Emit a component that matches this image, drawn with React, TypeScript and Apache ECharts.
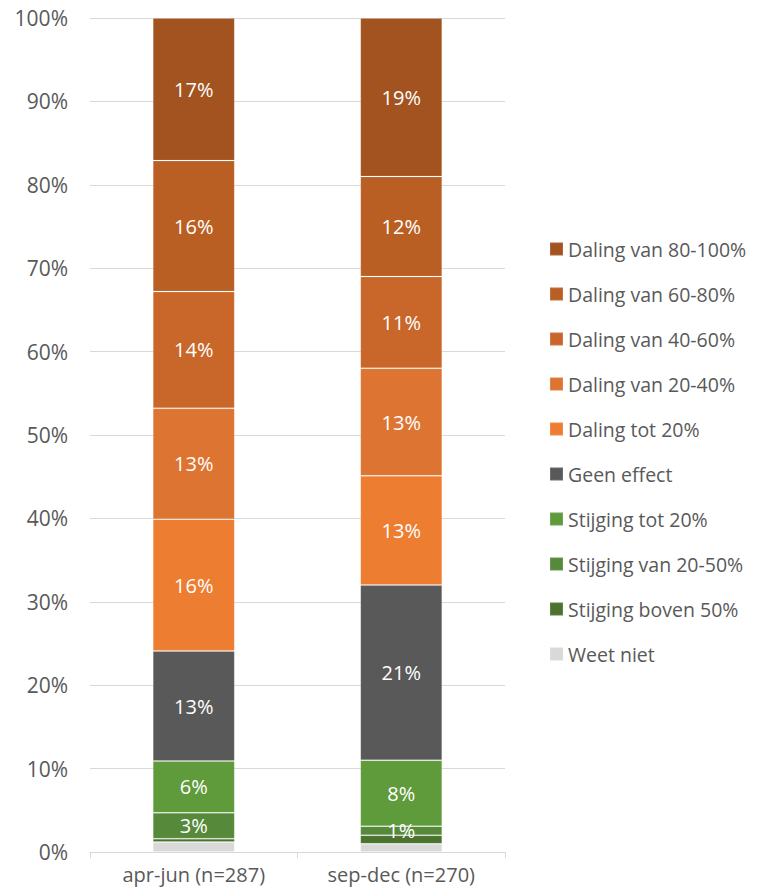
import React, { useEffect, useRef } from "react";
import * as echarts from "echarts";

const categories = ["apr-jun (n=287)", "sep-dec (n=270)"];
const seriesNames = [
  "Weet niet",
  "Stijging boven 50%",
  "Stijging van 20-50%",
  "Stijging tot 20%",
  "Geen effect",
  "Daling tot 20%",
  "Daling van 20-40%",
  "Daling van 40-60%",
  "Daling van 60-80%",
  "Daling van 80-100%",
];
const weetNiet = [1.2, 1.0];
const stijgingBoven50 = [0.4, 1.0];
const stijging20_50 = [3.1, 1.1];
const stijgingTot20 = [6.2, 7.9];
const geenEffect = [13.2, 21.0];
const dalingTot20 = [15.8, 13.1];
const daling20_40 = [13.3, 12.9];
const daling40_60 = [14.0, 11.0];
const daling60_80 = [15.7, 12.0];
const daling80_100 = [17.1, 19.0];
const seriesValues = [
  weetNiet,
  stijgingBoven50,
  stijging20_50,
  stijgingTot20,
  geenEffect,
  dalingTot20,
  daling20_40,
  daling40_60,
  daling60_80,
  daling80_100,
];
const colors = [
  "#D9D9D9",
  "#4B722F",
  "#56893A",
  "#5F9A3B",
  "#595959",
  "#ED7D31",
  "#DE7431",
  "#C9672A",
  "#BA5F24",
  "#A3531F",
];
const hiddenLabelSeries = ["Weet niet", "Stijging boven 50%"];
const yTicks = [0, 10, 20, 30, 40, 50, 60, 70, 80, 90, 100];

const FONT = "'Open Sans', 'Noto Sans', sans-serif";

export default function App() {
  const ref = useRef<HTMLDivElement>(null);
  useEffect(() => {
    if (!ref.current) return;
    const chart = echarts.init(ref.current, undefined, { renderer: "svg" });
    chart.setOption({
      animation: false,
      textStyle: { fontFamily: FONT },
      grid: { left: 90, right: 253, top: 18, bottom: 44 },
      legend: {
        orient: "vertical",
        left: 544,
        top: 232,
        itemWidth: 13,
        itemHeight: 13,
        itemGap: 21,
        icon: "rect",
        data: [...seriesNames].reverse(),
        textStyle: {
          fontSize: 19.5,
          color: "#595959",
          fontFamily: FONT,
          lineHeight: 24,
        },
      },
      xAxis: {
        type: "category",
        data: categories,
        axisLine: { lineStyle: { color: "#D9D9D9", width: 1 } },
        axisTick: { show: true, length: 6, lineStyle: { color: "#D9D9D9" } },
        axisLabel: { fontSize: 20, color: "#595959", margin: 12, fontFamily: FONT },
      },
      yAxis: {
        type: "value",
        min: yTicks[0],
        max: yTicks[yTicks.length - 1],
        interval: 10,
        axisLabel: {
          formatter: "{value}%",
          fontSize: 21,
          color: "#595959",
          margin: 22,
          fontFamily: FONT,
        },
        splitLine: { lineStyle: { color: "#D9D9D9", width: 1 } },
        axisLine: { show: false },
        axisTick: { show: false },
      },
      series: seriesNames.map((name, i) => ({
        name,
        type: "bar",
        stack: "total",
        barWidth: 82,
        itemStyle: {
          color: colors[i],
          borderColor: "rgba(255,255,255,0.12)",
          borderWidth: 1,
        },
        label: {
          show: !hiddenLabelSeries.includes(name),
          position: "inside",
          color: "#FFFFFF",
          fontSize: 20,
          fontFamily: FONT,
          formatter: (p: any) => Math.round(p.value) + "%",
        },
        data: seriesValues[i],
      })),
    });
    return () => chart.dispose();
  }, []);
  return <div ref={ref} style={{ width: 758, height: 896, margin: -8 }} />;
}
